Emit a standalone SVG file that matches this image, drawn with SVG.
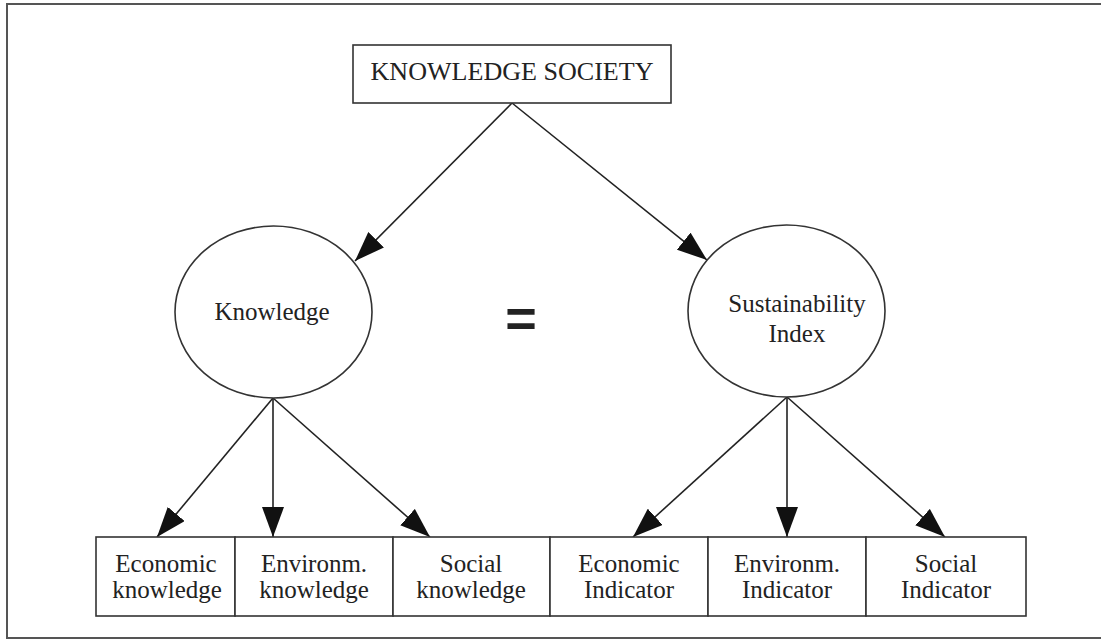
<svg xmlns="http://www.w3.org/2000/svg" width="1101" height="640" viewBox="0 0 1101 640">
<style>
  .box{fill:#fff;stroke:#333;stroke-width:1.6}
  .frame{fill:#fff;stroke:#555;stroke-width:2}
  .t{font-family:"Liberation Serif","Times New Roman",serif;font-size:25px;fill:#222;text-anchor:middle}
  .ln{stroke:#222;stroke-width:1.6;fill:none;marker-end:url(#ah)}
</style>
<defs>
  <marker id="ah" viewBox="0 0 30 22" markerWidth="30" markerHeight="22" refX="30" refY="11" orient="auto" markerUnits="userSpaceOnUse">
    <path d="M0,0 L30,11 L0,22 z" fill="#111"/>
  </marker>
</defs>
<rect class="frame" x="7" y="4" width="1100" height="634"/>

<g id="connectors">
  <line class="ln" x1="512" y1="103" x2="355" y2="261"/>
  <line class="ln" x1="512" y1="103" x2="707" y2="260"/>
  <line class="ln" x1="273" y1="398" x2="157" y2="537"/>
  <line class="ln" x1="273" y1="398" x2="273" y2="537"/>
  <line class="ln" x1="273" y1="398" x2="430" y2="537"/>
  <line class="ln" x1="787" y1="397" x2="633" y2="537"/>
  <line class="ln" x1="787" y1="397" x2="787" y2="537"/>
  <line class="ln" x1="787" y1="397" x2="945" y2="537"/>
</g>

<g id="knowledge-society">
  <rect class="box" x="353" y="45" width="318" height="58"/>
  <text class="t" x="512" y="80" font-size="23" textLength="283" lengthAdjust="spacingAndGlyphs">KNOWLEDGE SOCIETY</text>
</g>

<g id="knowledge">
  <ellipse class="box" cx="273.5" cy="312" rx="98.5" ry="86"/>
  <text class="t" x="272" y="320">Knowledge</text>
</g>

<g id="equals">
  <text x="521" y="337" font-family="Liberation Sans, Arial, sans-serif" font-weight="bold" font-size="54" fill="#222" text-anchor="middle">=</text>
</g>

<g id="sustainability-index">
  <ellipse class="box" cx="786.5" cy="311" rx="98.5" ry="86"/>
  <text class="t" x="797" y="312">Sustainability</text>
  <text class="t" x="797" y="342">Index</text>
</g>

<g id="economic-knowledge">
  <rect class="box" x="96" y="537" width="139" height="79"/>
  <text class="t" x="166" y="572">Economic</text>
  <text class="t" x="167" y="598">knowledge</text>
</g>
<g id="environm-knowledge">
  <rect class="box" x="235" y="537" width="158" height="79"/>
  <text class="t" x="314" y="572">Environm.</text>
  <text class="t" x="314" y="598">knowledge</text>
</g>
<g id="social-knowledge">
  <rect class="box" x="393" y="537" width="157" height="79"/>
  <text class="t" x="471" y="572">Social</text>
  <text class="t" x="471" y="598">knowledge</text>
</g>
<g id="economic-indicator">
  <rect class="box" x="550" y="537" width="158" height="79"/>
  <text class="t" x="629" y="572">Economic</text>
  <text class="t" x="629" y="598">Indicator</text>
</g>
<g id="environm-indicator">
  <rect class="box" x="708" y="537" width="158" height="79"/>
  <text class="t" x="787" y="572">Environm.</text>
  <text class="t" x="787" y="598">Indicator</text>
</g>
<g id="social-indicator">
  <rect class="box" x="866" y="537" width="160" height="79"/>
  <text class="t" x="946" y="572">Social</text>
  <text class="t" x="946" y="598">Indicator</text>
</g>
</svg>
